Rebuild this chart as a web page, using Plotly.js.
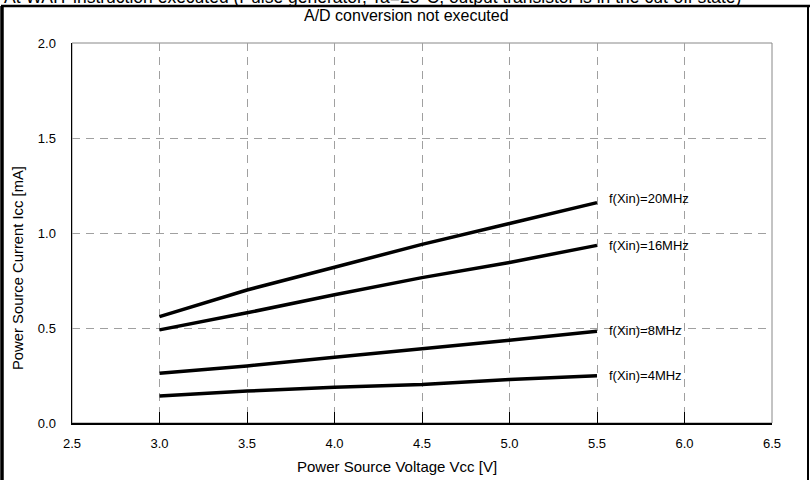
<!DOCTYPE html>
<html>
<head>
<meta charset="utf-8">
<script src="https://cdn.plot.ly/plotly-3.0.1.min.js"></script>
<style>
html,body{margin:0;padding:0;background:#fff;}
#chart{width:810px;height:480px;}
</style>
</head>
<body>
<div id="chart"></div>
<script>
const voltage = [3.0, 3.5, 4.0, 4.5, 5.0, 5.5];
const icc20 = [0.56, 0.70, 0.82, 0.94, 1.05, 1.16];
const icc16 = [0.49, 0.58, 0.675, 0.765, 0.845, 0.935];
const icc8 = [0.262, 0.30, 0.346, 0.389, 0.436, 0.483];
const icc4 = [0.142, 0.168, 0.188, 0.203, 0.229, 0.249];
const seriesNames = ["f(Xin)=20MHz", "f(Xin)=16MHz", "f(Xin)=8MHz", "f(Xin)=4MHz"];
const xTickVals = [2.5, 3.0, 3.5, 4.0, 4.5, 5.0, 5.5, 6.0, 6.5];
const xTickText = ["2.5", "3.0", "3.5", "4.0", "4.5", "5.0", "5.5", "6.0", "6.5"];
const yTickVals = [0.0, 0.5, 1.0, 1.5, 2.0];
const yTickText = ["0.0", "0.5", "1.0", "1.5", "2.0"];
const topNote = "At WAIT instruction executed (Pulse generator, Ta=25°C, output transistor is in the cut-off state)";
const chartTitle = "A/D conversion not executed";
const xTitle = "Power Source Voltage Vcc [V]";
const yTitle = "Power Source Current Icc [mA]";

const FONT = "Arial, 'Liberation Sans', sans-serif";
const allSeries = [icc20, icc16, icc8, icc4];
const yShifts = [4, 0, 1, 0];

const traces = allSeries.map((ys, i) => ({
  x: voltage, y: ys, type: 'scatter', mode: 'lines', name: seriesNames[i],
  line: {color: '#000', width: 3.5}, hoverinfo: 'skip'
}));

// plot area: x 72..772, y 43..423 (pixels)
const L = 72, R = 772, T = 43, B = 423;
const px = X => (X - L) / (R - L);
const py = Y => (B - Y) / (B - T);

const annotations = allSeries.map((ys, i) => ({
  x: voltage[voltage.length - 1], y: ys[ys.length - 1], xref: 'x', yref: 'y',
  text: seriesNames[i], showarrow: false, xanchor: 'left', yanchor: 'middle',
  xshift: 10, yshift: yShifts[i], font: {family: FONT, size: 13, color: '#000'}
}));
annotations.push({
  x: px(2), y: py(9), xref: 'paper', yref: 'paper', text: topNote, showarrow: false,
  xanchor: 'left', yanchor: 'bottom', font: {family: FONT, size: 17.5, color: '#000'}
});
annotations.push({
  x: px(406), y: py(16), xref: 'paper', yref: 'paper', text: chartTitle, showarrow: false,
  xanchor: 'center', yanchor: 'middle', font: {family: FONT, size: 16, color: '#000'}
});
annotations.push({
  x: px(397), y: py(467), xref: 'paper', yref: 'paper', text: xTitle, showarrow: false,
  xanchor: 'center', yanchor: 'middle', font: {family: FONT, size: 15, color: '#000'}
});
annotations.push({
  x: px(18), y: py(268), xref: 'paper', yref: 'paper', text: yTitle, showarrow: false,
  textangle: -90, xanchor: 'center', yanchor: 'middle', font: {family: FONT, size: 14.8, color: '#000'}
});

const shapes = [
  // gray plot frame
  {type: 'rect', xref: 'paper', yref: 'paper', x0: 0, x1: 1, y0: 0, y1: 1,
   line: {color: '#888', width: 1}, layer: 'below'},
  // outer black frame
  {type: 'line', xref: 'paper', yref: 'paper', x0: px(2), x1: px(2), y0: py(6), y1: py(500),
   line: {color: '#000', width: 3.5}},
  {type: 'line', xref: 'paper', yref: 'paper', x0: px(1), x1: px(811), y0: py(6), y1: py(6),
   line: {color: '#000', width: 2.5}},
  {type: 'line', xref: 'paper', yref: 'paper', x0: px(808), x1: px(808), y0: py(6), y1: py(500),
   line: {color: '#000', width: 2}}
];

const layout = {
  width: 810, height: 480,
  margin: {l: L, r: 810 - R, t: T, b: 480 - B, pad: 0},
  paper_bgcolor: '#fff', plot_bgcolor: '#fff',
  showlegend: false,
  font: {family: FONT, size: 13, color: '#000'},
  xaxis: {
    range: [2.5, 6.5], tickvals: xTickVals, ticktext: xTickText,
    showline: true, linecolor: '#000', linewidth: 1.5, mirror: false,
    ticks: 'inside', ticklen: 11, tickcolor: '#000', tickwidth: 1,
    showgrid: true, gridcolor: '#a0a0a0', gridwidth: 1, griddash: '8px,6px',
    zeroline: false, ticklabelstandoff: 8,
    tickfont: {family: FONT, size: 13, color: '#000'}
  },
  yaxis: {
    range: [0, 2.0], tickvals: yTickVals, ticktext: yTickText,
    showline: true, linecolor: '#000', linewidth: 1.5, mirror: false,
    ticks: '', showgrid: true, gridcolor: '#a0a0a0', gridwidth: 1, griddash: '8px,6px',
    zeroline: false, ticklabelstandoff: 12,
    tickfont: {family: FONT, size: 13, color: '#000'}
  },
  annotations: annotations,
  shapes: shapes
};

Plotly.newPlot('chart', traces, layout, {staticPlot: true, displayModeBar: false});
</script>
</body>
</html>
